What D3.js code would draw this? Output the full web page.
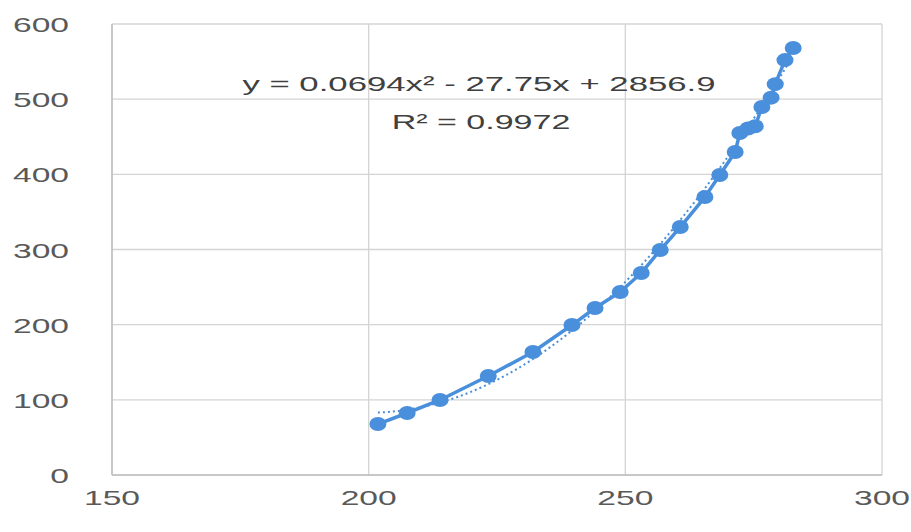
<!DOCTYPE html>
<html>
<head>
<meta charset="utf-8">
<script src="https://cdn.jsdelivr.net/npm/d3@7"></script>
<style>
  html, body { margin: 0; padding: 0; background: #fff; }
  svg { display: block; }
</style>
</head>
<body>
<svg id="chart" width="911" height="532"></svg>
<script>
// ---- data ----
const xValues = [201.8, 207.5, 213.9, 223.3, 232.0, 239.6, 244.1, 249.0, 253.1, 256.8,
                 260.7, 265.5, 268.4, 271.4, 272.3, 273.9, 275.3, 276.6, 278.4, 279.2,
                 281.1, 282.7];
const yValues = [67.8, 82.5, 99.8, 131.7, 163.6, 199.5, 222.2, 243.4, 268.7, 299.3,
                 329.9, 369.8, 399.1, 429.7, 455, 461, 464, 489.6, 502, 520,
                 552, 568];
const xTicks = [150, 200, 250, 300];
const yTicks = [0, 100, 200, 300, 400, 500, 600];
const trendCoef = [0.0694, -27.75, 2856.9];
const equationLabel = "y = 0.0694x² - 27.75x + 2856.9";
const r2Label = "R² = 0.9972";

(function () {
// ---- layout ----
const svg = d3.select("#chart");
const mLeft = 112, mRight = 882, mTop = 24, mBottom = 475;
const x = d3.scaleLinear().domain([150, 300]).range([mLeft, mRight]);
const y = d3.scaleLinear().domain([0, 600]).range([mBottom, mTop]);
const blue = "#4a8fdb";
const gridColor = "#d4d4d4";
const textColor = "#595959";
const fontFamily = "'Liberation Sans', Arial, sans-serif";

// gridlines
svg.append("g").selectAll("line").data(yTicks).join("line")
  .attr("x1", mLeft).attr("x2", mRight)
  .attr("y1", d => y(d)).attr("y2", d => y(d))
  .attr("stroke", gridColor).attr("stroke-width", 1.3);
svg.append("g").selectAll("line").data(xTicks).join("line")
  .attr("y1", mTop).attr("y2", mBottom)
  .attr("x1", d => x(d)).attr("x2", d => x(d))
  .attr("stroke", gridColor).attr("stroke-width", 1.3);
// axis lines
svg.append("line").attr("x1", mLeft).attr("x2", mRight).attr("y1", mBottom).attr("y2", mBottom)
  .attr("stroke", "#bfbfbf").attr("stroke-width", 1.5);
svg.append("line").attr("x1", mLeft).attr("x2", mLeft).attr("y1", mTop).attr("y2", mBottom)
  .attr("stroke", "#bfbfbf").attr("stroke-width", 1.5);

// tick labels
function stretchedText(px, py, txt, anchor, size, color, sx) {
  const g = svg.append("g").attr("transform", `translate(${px},${py}) scale(${sx},1)`);
  g.append("text").text(txt)
    .attr("text-anchor", anchor)
    .attr("font-family", fontFamily)
    .attr("font-size", size)
    .attr("fill", color);
}
yTicks.forEach(t => stretchedText(69, y(t) + 8, String(t), "end", 21, textColor, 1.6));
xTicks.forEach(t => stretchedText(x(t), 505, String(t), "middle", 21, textColor, 1.6));

// data line + markers
const pts = xValues.map((v, i) => [v, yValues[i]]);

// trendline (polynomial from displayed coefficients)
const xMin = d3.min(xValues), xMax = d3.max(xValues);
const trendX = d3.range(xMin, xMax + 0.01, 0.5);
const trend = trendX.map(v => [v, trendCoef[0] * v * v + trendCoef[1] * v + trendCoef[2]]);
svg.append("path").datum(trend)
  .attr("d", d3.line().x(d => x(d[0])).y(d => y(d[1])))
  .attr("fill", "none").attr("stroke", blue).attr("stroke-width", 2)
  .attr("stroke-dasharray", "2,3");

svg.append("path").datum(pts)
  .attr("d", d3.line().x(d => x(d[0])).y(d => y(d[1])))
  .attr("fill", "none").attr("stroke", blue).attr("stroke-width", 3.5)
  .attr("stroke-linejoin", "round");

svg.append("g").selectAll("ellipse").data(pts).join("ellipse")
  .attr("cx", d => x(d[0])).attr("cy", d => y(d[1]))
  .attr("rx", 8.5).attr("ry", 7)
  .attr("fill", blue);

// equation labels
stretchedText(479, 91, equationLabel, "middle", 21, "#404040", 1.655);
stretchedText(481, 129, r2Label, "middle", 21, "#404040", 1.62);
})();
</script>
</body>
</html>
